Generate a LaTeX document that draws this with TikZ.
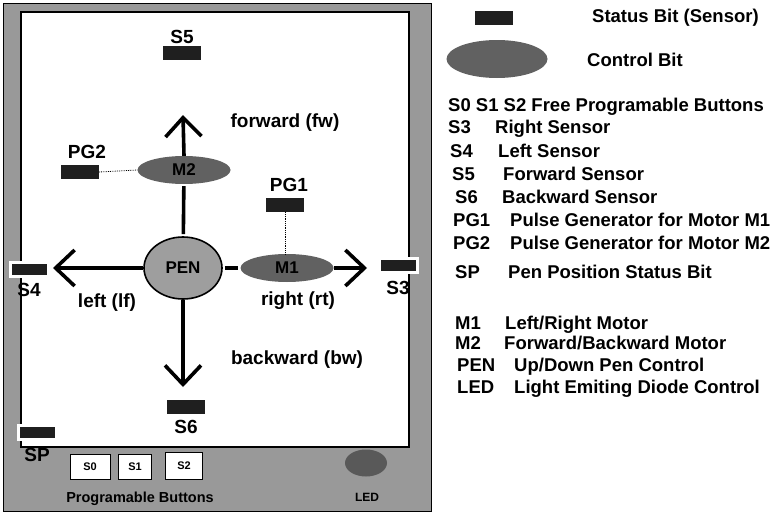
\documentclass[tikz,border=0pt]{standalone}
\usepackage{fontspec}
\setmainfont{Liberation Sans}
\usepackage{tikz}
\usetikzlibrary{arrows.meta, positioning, shapes.geometric}

\begin{document}
\begin{tikzpicture}[
  x=1pt, y=-1pt,
  node distance=1pt,
  lbl/.style={font=\bfseries\fontsize{19}{22}\selectfont, inner sep=0pt},
  keytext/.style={font=\bfseries\fontsize{18.5}{22}\selectfont, inner sep=0pt, anchor=base west},
  status/.style={rectangle, fill=black!88, minimum width=38pt, minimum height=14pt, inner sep=0pt},
  edgebit/.style={status, draw=white, line width=3pt},
  ctrl/.style={ellipse, fill=black!62, minimum width=93pt, minimum height=28pt, inner sep=0pt,
    font=\bfseries\fontsize{17}{20}\selectfont},
  penbit/.style={ellipse, draw, line width=1.6pt, fill=black!38, minimum width=78pt,
    minimum height=62pt, inner sep=0pt, font=\bfseries\fontsize{17}{20}\selectfont},
  button/.style={rectangle, draw, line width=0.8pt, fill=white, minimum height=25pt,
    inner sep=0pt, font=\bfseries\fontsize{11}{13}\selectfont},
  move/.style={draw, line width=3.6pt, -{Straight Barb[length=19pt, width=36pt, line width=3.6pt]}},
  stem/.style={draw, line width=3.6pt, shorten <=2pt, shorten >=2pt},
  link/.style={draw, densely dotted, line width=0.8pt}
]
\useasboundingbox (0,0) rectangle (782,514);

% board
\draw[fill=black!40, line width=1pt] (3,3) rectangle (431,511);
\draw[fill=white, line width=1.4pt] (21,12) rectangle (409,447);

% motors and pen
\node[penbit] (pen) at (183,268) {PEN};
\node[ctrl] (m1) at (287,268) {M1};
\node[ctrl] (m2) at (184,170) {M2};

% sensors
\node[status] (s5) at (182,53) {};
\node[lbl, above=2pt of s5] (s5l) {S5};
\node[status] (s6) at (186,407) {};
\node[lbl, below=6pt of s6] (s6l) {S6};
\node[edgebit] (s4) at (29,269) {};
\node[lbl, below=6pt of s4] (s4l) {S4};
\node[edgebit] (s3) at (398,265) {};
\node[lbl, below=8pt of s3] (s3l) {S3};
\node[edgebit] (sp) at (37,432) {};
\node[lbl, below=8pt of sp] (spl) {SP};

% pulse generators
\node[status] (pg2) at (80,172) {};
\node[lbl, above=6pt of pg2, xshift=7pt] (pg2l) {PG2};
\node[status] (pg1) at (285,205) {};
\node[lbl, above=6pt of pg1, xshift=4pt] (pg1l) {PG1};
\path[link] (pg2.east) -- (m2.west);
\path[link] (pg1.south) -- (pg1.south |- m1.north);

% directions
\coordinate (fwtip) at (183,115);
\coordinate (bwtip) at (183,387);
\coordinate (lftip) at (53,268);
\coordinate (rttip) at (367,268);
\path[stem] (pen) -- (m2);
\path[stem] (pen) -- (m1);
\path[move] (m2.north) -- (fwtip);
\path[move] (pen) -- (bwtip);
\path[move] (pen) -- (lftip);
\path[move] (m1) -- (rttip);

\node[lbl] (fw) at (285,123) {forward (fw)};
\node[lbl] (bw) at (297,360) {backward (bw)};
\node[lbl] (lf) at (107,303) {left (lf)};
\node[lbl] (rt) at (298,301) {right (rt)};

% buttons and led
\node[button, minimum width=40pt] (b0) at (90,467) {S0};
\node[button, minimum width=33pt] (b1) at (135,467) {S1};
\node[button, minimum width=37pt, minimum height=27pt] (b2) at (184,466) {S2};
\node[font=\bfseries\fontsize{14.5}{17}\selectfont, inner sep=0pt] (pb) at (140,499) {Programable Buttons};
\node[ellipse, fill=black!65, minimum width=42pt, minimum height=27pt] (led) at (366,463) {};
\node[font=\bfseries\fontsize{12}{14}\selectfont, inner sep=0pt] (ledl) at (367,497) {LED};

% legend
\node[status] (keybit) at (494,18) {};
\node[keytext] (keybitl) at (592,23) {Status Bit (Sensor)};
\node[ctrl, minimum width=101pt, minimum height=38pt] (keyctrl) at (497,59) {};
\node[keytext] (keyctrll) at (587,66) {Control Bit};
\node[keytext] (ks012) at (448,111) {S0 S1 S2 Free Programable Buttons};
\foreach \k/\d/\a/\b/\y [count=\i] in {
  S3/{Right Sensor}/448/495/133,
  S4/{Left Sensor}/450/498/157,
  S5/{Forward Sensor}/452/503/180,
  S6/{Backward Sensor}/455/502/203,
  PG1/{Pulse Generator for Motor M1}/453/510/226,
  PG2/{Pulse Generator for Motor M2}/453/510/249,
  SP/{Pen Position Status Bit}/455/508/278,
  M1/{Left/Right Motor}/455/505/329,
  M2/{Forward/Backward Motor}/455/504/349,
  PEN/{Up/Down Pen Control}/457/514/371,
  LED/{Light Emiting Diode Control}/457/514/393}
{
  \node[keytext] (key\i) at (\a,\y) {\k};
  \node[keytext] (desc\i) at (\b,\y) {\d};
}
\end{tikzpicture}
\end{document}
